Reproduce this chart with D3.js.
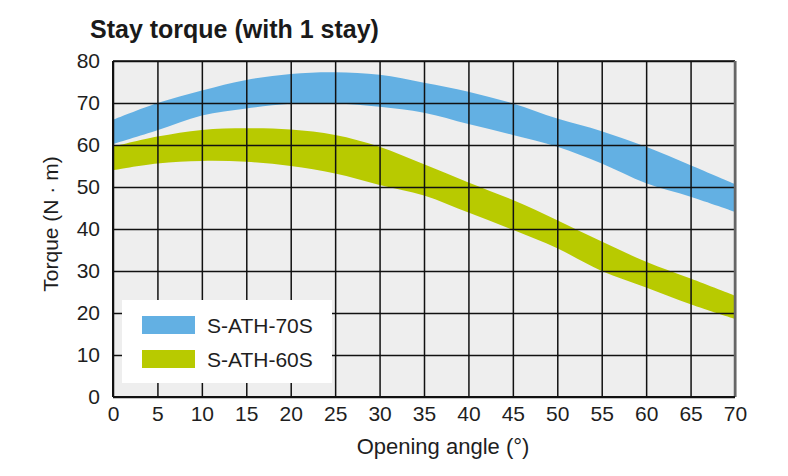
<!DOCTYPE html>
<html>
<head>
<meta charset="utf-8">
<script src="https://cdn.jsdelivr.net/npm/d3@7"></script>
<style>
  body { margin: 0; background: #fff; }
  svg { display: block; font-family: "Liberation Sans", Arial, sans-serif; }
</style>
</head>
<body>
<div id="chart"></div>
<script>
// Datos (angulo de apertura -> par en N·m)
const angles = [0, 5, 10, 15, 20, 25, 30, 35, 40, 45, 50, 55, 60, 65, 70];
const s70Upper = [66, 70, 73, 75.5, 76.9, 77.3, 76.7, 74.8, 72.7, 69.9, 66.3, 63.3, 59.6, 55.2, 50.7];
const s70Lower = [60.2, 63.5, 67, 68.7, 69.8, 69.9, 69.1, 67.7, 65, 62.4, 59.6, 55.6, 50.9, 47.7, 44.1];
const s60Upper = [59.6, 62, 63.6, 64, 63.7, 62.4, 59.6, 55.4, 51.1, 46.9, 42.1, 37, 32.2, 28.2, 24.1];
const s60Lower = [54, 55.6, 56.2, 56, 55, 53.2, 50.5, 48, 43.9, 39.8, 35.4, 30, 26.1, 22.1, 18.6];
const seriesNames = ["S-ATH-70S", "S-ATH-60S"];
const xTicks = [0, 5, 10, 15, 20, 25, 30, 35, 40, 45, 50, 55, 60, 65, 70];
const yTicks = [0, 10, 20, 30, 40, 50, 60, 70, 80];

const width = 788;
const height = 476;
const margin = { top: 61, right: 53, bottom: 79, left: 113 };
const chartWidth = width - margin.left - margin.right;
const chartHeight = height - margin.top - margin.bottom;

const colors = { "S-ATH-70S": "#63b0e3", "S-ATH-60S": "#b8ca00" };

const bands = [
  { name: seriesNames[0], values: angles.map((a, i) => ({ a, lo: s70Lower[i], hi: s70Upper[i] })) },
  { name: seriesNames[1], values: angles.map((a, i) => ({ a, lo: s60Lower[i], hi: s60Upper[i] })) }
];

const svg = d3.select("#chart").append("svg")
  .attr("width", width)
  .attr("height", height);

// Titulo
svg.append("text")
  .attr("x", 90)
  .attr("y", 38)
  .style("font-size", "25px")
  .style("font-weight", "bold")
  .attr("fill", "#1a1a1a")
  .text("Stay torque (with 1 stay)");

const g = svg.append("g")
  .attr("transform", `translate(${margin.left},${margin.top})`);

const x = d3.scaleLinear().domain([0, 70]).range([0, chartWidth]);
const y = d3.scaleLinear().domain([0, 80]).range([chartHeight, 0]);

// Fondo del area de trazado
g.append("rect")
  .attr("width", chartWidth)
  .attr("height", chartHeight)
  .attr("fill", "#eeeeee");

// Bandas
const area = d3.area()
  .x(d => x(d.a))
  .y0(d => y(d.lo))
  .y1(d => y(d.hi))
  .curve(d3.curveCatmullRom.alpha(0.5));

g.selectAll(".band")
  .data(bands)
  .enter()
  .append("path")
  .attr("class", "band")
  .attr("d", d => area(d.values))
  .attr("fill", d => colors[d.name]);

// Ejes con rejilla
const xAxis = g.append("g")
  .attr("transform", `translate(0,${chartHeight})`)
  .call(d3.axisBottom(x).tickValues(xTicks).tickSizeInner(-chartHeight).tickSizeOuter(0).tickPadding(10));

const yAxis = g.append("g")
  .call(d3.axisLeft(y).tickValues(yTicks).tickSizeInner(-chartWidth).tickSizeOuter(0).tickPadding(13));

[xAxis, yAxis].forEach(ax => {
  ax.select(".domain").remove();
  ax.selectAll(".tick line").attr("stroke", "#111").attr("stroke-width", 1.5);
  ax.selectAll(".tick text")
    .attr("fill", "#1e1e1e")
    .style("font-size", "21px");
});
xAxis.selectAll(".tick text").attr("dy", "0.68em");

// Bordes
g.append("line").attr("x1", 0).attr("x2", chartWidth).attr("y1", 0).attr("y2", 0)
  .attr("stroke", "#111").attr("stroke-width", 1.5);
g.append("line").attr("x1", chartWidth).attr("x2", chartWidth).attr("y1", 0).attr("y2", chartHeight)
  .attr("stroke", "#666").attr("stroke-width", 2.5);
g.append("line").attr("x1", 0).attr("x2", 0).attr("y1", 0).attr("y2", chartHeight)
  .attr("stroke", "#111").attr("stroke-width", 2);
g.append("line").attr("x1", 0).attr("x2", chartWidth).attr("y1", chartHeight).attr("y2", chartHeight)
  .attr("stroke", "#111").attr("stroke-width", 2);

// Leyenda
const legend = g.append("g").attr("transform", "translate(9,239)");
legend.append("rect")
  .attr("width", 210)
  .attr("height", 83)
  .attr("fill", "#ffffff");

const legendItems = legend.selectAll(".legend-item")
  .data(seriesNames)
  .enter()
  .append("g")
  .attr("class", "legend-item")
  .attr("transform", (d, i) => `translate(20,${16 + i * 34})`);

legendItems.append("rect")
  .attr("width", 53)
  .attr("height", 18)
  .attr("fill", d => colors[d]);

legendItems.append("text")
  .attr("x", 65)
  .attr("y", 17)
  .attr("fill", "#1e1e1e")
  .style("font-size", "21px")
  .text(d => d);

// Titulos de ejes
svg.append("text")
  .attr("x", 443)
  .attr("y", 454)
  .attr("text-anchor", "middle")
  .attr("fill", "#1e1e1e")
  .style("font-size", "22px")
  .text("Opening angle (°)");

svg.append("text")
  .attr("transform", "translate(58,224) rotate(-90)")
  .attr("text-anchor", "middle")
  .attr("fill", "#1e1e1e")
  .style("font-size", "21px")
  .text("Torque (N · m)");
</script>
</body>
</html>
